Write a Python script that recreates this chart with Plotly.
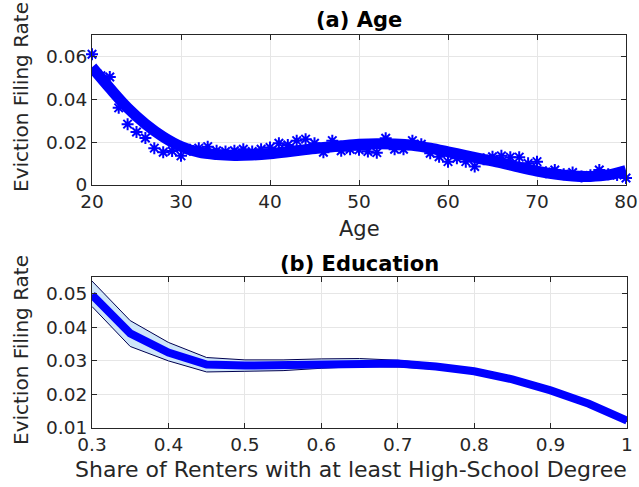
import plotly.graph_objects as go

# ---- (a) Age: binned filing rates and fitted curve ----
ages = list(range(20, 81))
age_rate = [
    0.0610, 0.0510, 0.0504, 0.0360, 0.0284, 0.0247, 0.0219, 0.0172, 0.0153, 0.0159,
    0.0136, 0.0165, 0.0172, 0.0179, 0.0160, 0.0156, 0.0160, 0.0167, 0.0156, 0.0167,
    0.0175, 0.0195, 0.0187, 0.0207, 0.0214, 0.0195, 0.0153, 0.0207, 0.0160, 0.0167,
    0.0164, 0.0156, 0.0151, 0.0218, 0.0167, 0.0167, 0.0207, 0.0190, 0.0148, 0.0132,
    0.0109, 0.0125, 0.0109, 0.0086, 0.0120, 0.0132, 0.0136, 0.0130, 0.0130, 0.0101,
    0.0109, 0.0060, 0.0070, 0.0050, 0.0058, 0.0040, 0.0045, 0.0070, 0.0050, 0.0047,
    0.0033,
]
fit_ages = list(range(20, 81, 2))
fit_rate = [
    0.0550, 0.0452, 0.0360, 0.0285, 0.0225, 0.0180, 0.0153, 0.0142, 0.0138, 0.0140,
    0.0146, 0.0155, 0.0165, 0.0175, 0.0183, 0.0190, 0.0193, 0.0191, 0.0185, 0.0172,
    0.0155, 0.0137, 0.0120, 0.0103, 0.0083, 0.0065, 0.0051, 0.0042, 0.0040, 0.0047,
    0.0068,
]

# ---- (b) Education: estimate with confidence band ----
share = [0.30, 0.35, 0.40, 0.45, 0.50, 0.55, 0.60, 0.65, 0.70, 0.75, 0.80, 0.85, 0.90, 0.95, 1.00]
edu_rate = [0.0497, 0.0382, 0.0325, 0.0289, 0.0286, 0.0287, 0.0292, 0.0295, 0.0292, 0.0283,
            0.0269, 0.0245, 0.0212, 0.0172, 0.0122]
edu_upper = [0.0538, 0.0420, 0.0355, 0.0310, 0.0303, 0.0303, 0.0306, 0.0307, 0.0302, 0.0291,
             0.0276, 0.0251, 0.0217, 0.0176, 0.0125]
edu_lower = [0.0462, 0.0343, 0.0300, 0.0267, 0.0269, 0.0271, 0.0278, 0.0283, 0.0282, 0.0275,
             0.0262, 0.0239, 0.0207, 0.0168, 0.0119]

W, H = 639, 487
FONT = "DejaVu Sans"
TXT = "#262626"
BLUE = "#0000ff"


def px_x(x):
    return x / W


def px_y(y):
    return 1 - y / H


fig = go.Figure()

fig.add_trace(go.Scatter(
    x=ages, y=age_rate, mode="markers", xaxis="x", yaxis="y",
    marker=dict(symbol="asterisk-open", size=10, color=BLUE, line=dict(color=BLUE, width=2)),
    showlegend=False, cliponaxis=False,
))
fig.add_trace(go.Scatter(
    x=fit_ages, y=fit_rate, mode="lines", xaxis="x", yaxis="y",
    line=dict(color=BLUE, width=11, shape="spline"), showlegend=False,
))

# confidence band
fig.add_trace(go.Scatter(
    x=share + share[::-1], y=edu_upper + edu_lower[::-1], xaxis="x2", yaxis="y2",
    mode="lines", fill="toself", fillcolor="rgb(206,229,249)",
    line=dict(color="rgba(0,0,0,0)", width=0), showlegend=False,
))
for band in (edu_upper, edu_lower):
    fig.add_trace(go.Scatter(
        x=share, y=band, mode="lines", xaxis="x2", yaxis="y2",
        line=dict(color="#000050", width=1), showlegend=False,
    ))
fig.add_trace(go.Scatter(
    x=share, y=edu_rate, mode="lines", xaxis="x2", yaxis="y2",
    line=dict(color=BLUE, width=8), showlegend=False,
))

axis_common = dict(
    showline=True, linecolor=TXT, linewidth=1, mirror="ticks",
    ticks="inside", ticklen=5, tickcolor=TXT, automargin=False,
    showgrid=True, gridcolor="#e6e6e6", gridwidth=1, zeroline=False,
    tickfont=dict(family=FONT, size=18.5, color=TXT),
)

fig.update_layout(
    width=W, height=H,
    margin=dict(l=0, r=0, t=0, b=0, pad=0, autoexpand=False),
    paper_bgcolor="white", plot_bgcolor="white",
    xaxis=dict(axis_common, domain=[px_x(92), px_x(626)], range=[20, 80],
               tickvals=[20, 30, 40, 50, 60, 70, 80], anchor="y"),
    yaxis=dict(axis_common, domain=[px_y(185), px_y(35)], range=[0, 0.07],
               tickvals=[0, 0.02, 0.04, 0.06], ticktext=["0", "0.02", "0.04", "0.06"],
               anchor="x"),
    xaxis2=dict(axis_common, domain=[px_x(92), px_x(627)], range=[0.3, 1.0],
                tickvals=[0.3, 0.4, 0.5, 0.6, 0.7, 0.8, 0.9, 1.0],
                ticktext=["0.3", "0.4", "0.5", "0.6", "0.7", "0.8", "0.9", "1"], anchor="y2"),
    yaxis2=dict(axis_common, domain=[px_y(428), px_y(277)], range=[0.01, 0.055],
                tickvals=[0.01, 0.02, 0.03, 0.04, 0.05],
                ticktext=["0.01", "0.02", "0.03", "0.04", "0.05"], anchor="x2"),
)

labels = [
    dict(text="<b>(a) Age</b>", x=359, y=20, size=21, angle=0),
    dict(text="<b>(b) Education</b>", x=359, y=264, size=21, angle=0),
    dict(text="Age", x=359, y=229, size=21, angle=0),
    dict(text="Share of Renters with at least High-School Degree", x=351, y=469, size=22, angle=0),
    dict(text="Eviction Filing Rate", x=21, y=97, size=20, angle=-90),
    dict(text="Eviction Filing Rate", x=21, y=350, size=20, angle=-90),
]
for lb in labels:
    fig.add_annotation(
        text=lb["text"], x=px_x(lb["x"]), y=px_y(lb["y"]), xref="paper", yref="paper",
        xanchor="center", yanchor="middle", showarrow=False, textangle=lb["angle"],
        font=dict(family=FONT, size=lb["size"], color="#000000" if "<b>" in lb["text"] else TXT),
    )

fig.write_html("out.html")
